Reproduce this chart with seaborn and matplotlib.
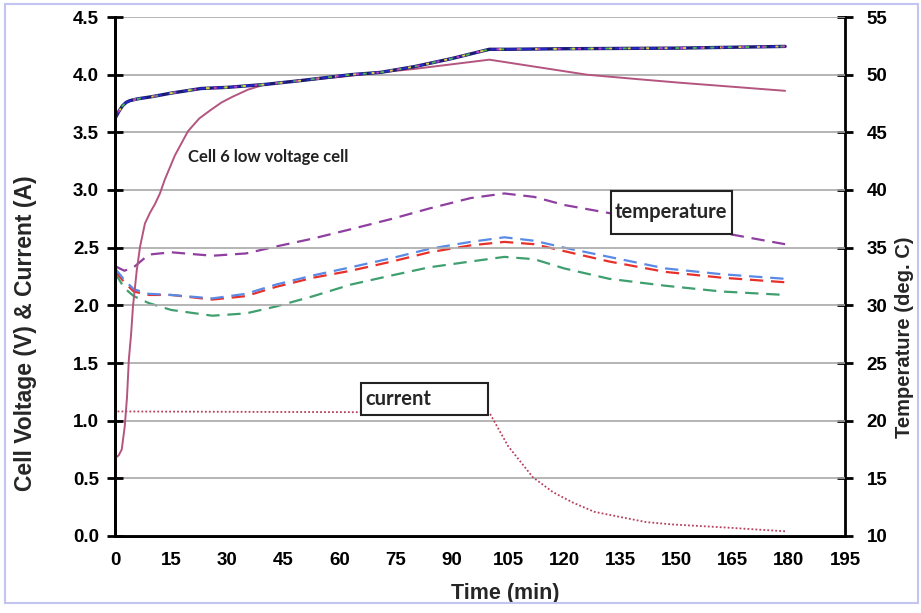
import matplotlib
matplotlib.use('Agg')
import matplotlib.pyplot as plt
from matplotlib.patches import Rectangle
import seaborn as sns

sns.set_style('white')
plt.rcParams['font.family'] = ['Liberation Sans', 'DejaVu Sans']

# normal cells (all on top of each other)
cell_t = [0, 1, 2, 3, 4, 6, 10, 15, 23, 30, 40, 50, 63, 71, 80, 90, 100, 105, 120, 150, 179]
cell_v = [3.62, 3.68, 3.73, 3.76, 3.775, 3.79, 3.81, 3.84, 3.88, 3.89, 3.915, 3.95, 4.0, 4.02,
          4.07, 4.14, 4.22, 4.22, 4.225, 4.23, 4.245]

# cell 6, low voltage
cell6_t = [0, 0.2, 1.0, 1.8, 2.6, 3.2, 3.7, 4.3, 4.8, 5.8, 6.7, 8.0, 9.3, 10.7, 12.0, 13.3,
           16, 19.5, 22.5, 25.4, 28.5, 31.5, 35.5, 39.5, 45, 50, 60, 71, 80, 90, 100, 112,
           126, 140, 151, 165, 179]
cell6_v = [0, 0.68, 0.70, 0.75, 0.95, 1.2, 1.53, 1.75, 1.99, 2.3, 2.51, 2.71, 2.8, 2.88, 2.97,
           3.09, 3.3, 3.51, 3.62, 3.69, 3.76, 3.81, 3.87, 3.91, 3.935, 3.95, 3.98, 4.02, 4.05,
           4.09, 4.13, 4.07, 4.0, 3.96, 3.93, 3.895, 3.86]

# temperatures (deg C)
temp_t = [0, 2.5, 5, 9, 15, 26, 35, 43, 53, 63, 74, 84, 95, 104, 112, 120, 132, 147, 162, 179]
temp_purple = [33.4, 33.0, 33.3, 34.4, 34.6, 34.3, 34.5, 35.1, 35.8, 36.6, 37.5, 38.4, 39.3,
               39.7, 39.4, 38.7, 38.0, 37.1, 36.3, 35.3]
temp_blue = [33.2, 32.2, 31.4, 31.0, 30.9, 30.6, 31.0, 31.8, 32.6, 33.3, 34.1, 34.9, 35.5,
             35.9, 35.6, 35.0, 34.2, 33.2, 32.7, 32.3]
temp_red = [33.0, 32.0, 31.2, 30.9, 30.9, 30.5, 30.8, 31.6, 32.4, 33.0, 33.8, 34.6, 35.2,
            35.5, 35.3, 34.7, 33.8, 32.9, 32.4, 32.0]
temp_green = [32.8, 31.5, 30.8, 30.2, 29.6, 29.1, 29.3, 29.9, 30.8, 31.8, 32.6, 33.3, 33.8,
              34.2, 34.0, 33.2, 32.3, 31.7, 31.2, 30.9]

# charge current (A)
cur_t = [0, 0, 100, 105, 111.6, 117, 122.3, 128, 135.7, 142, 149, 157, 165, 172, 179.5]
cur_a = [0, 1.08, 1.07, 0.78, 0.51, 0.38, 0.29, 0.21, 0.16, 0.12, 0.10, 0.085, 0.07, 0.055, 0.04]

fig = plt.figure(figsize=(9.21, 6.13), dpi=100)
ax = fig.add_axes([115/921, 77/613, 730/921, 519/613])
ax2 = ax.twinx()

# temperatures on right axis
for vals, col in [(temp_green, '#3f9f6f'), (temp_red, '#e8302a'), (temp_blue, '#5a8ae6'),
                  (temp_purple, '#8e3f9f')]:
    sns.lineplot(x=temp_t, y=vals, ax=ax2, color=col, lw=1.6, estimator=None, sort=False,
                 linestyle=(0, (6, 3.5)))

# voltages and current on left axis
sns.lineplot(x=cur_t, y=cur_a, ax=ax, color='#b8405f', lw=1.3, estimator=None, sort=False,
             linestyle=(0, (1, 1.2)))
sns.lineplot(x=cell6_t, y=cell6_v, ax=ax, color='#b4557f', lw=1.4, estimator=None, sort=False)
sns.lineplot(x=cell_t, y=cell_v, ax=ax, color='#1a1a70', lw=2.4, estimator=None, sort=False)
for col, dash in [('#2828c8', (0, (5, 3))), ('#50b050', (2, (2, 7))),
                  ('#e0d040', (5, (1.5, 8))), ('#c040c0', (7, (1.5, 9)))]:
    sns.lineplot(x=cell_t, y=cell_v, ax=ax, color=col, lw=1.4, estimator=None, sort=False,
                 linestyle=dash)

ax.set_xlim(0, 195)
ax.set_ylim(0, 4.5)
ax2.set_ylim(10, 55)
ax.set_xticks(range(0, 196, 15))
ax.set_yticks([i * 0.5 for i in range(10)])
ax.set_yticklabels([f'{i * 0.5:.1f}' for i in range(10)])
ax2.set_yticks(range(10, 56, 5))

ax.yaxis.grid(True, color='#a8a8a8', lw=1.2)
ax.xaxis.grid(False)
ax2.grid(False)
ax.set_zorder(ax2.get_zorder() + 1)
ax.patch.set_visible(False)

for a in (ax, ax2):
    for s in a.spines.values():
        s.set_color('black')
        s.set_linewidth(2)
    a.spines['top'].set_visible(False)
    a.tick_params(direction='inout', length=11, width=2, colors='black', labelsize=13.5, pad=6)
    for lbl in a.get_xticklabels() + a.get_yticklabels():
        lbl.set_fontweight('bold')
ax.spines['right'].set_visible(False)
ax2.tick_params(axis='y', pad=10)

ax.set_xlabel('Time (min)', fontsize=15.5, fontweight='bold')
ax.xaxis.set_label_coords(0.534, -0.09)
ax.set_ylabel('Cell Voltage (V) & Current (A)', fontsize=16.5, fontweight='bold')
ax.yaxis.set_label_coords(-0.107, 0.39)
ax2.set_ylabel('Temperature (deg. C)', fontsize=14.5, fontweight='bold')
ax2.yaxis.set_label_coords(1.068, 0.383)

ax.text(19.5, 3.29, 'Cell 6 low voltage cell', fontsize=12, fontweight='bold',
        family=['Lato', 'DejaVu Sans'], va='center', ha='left', color='#222222')

# boxed labels
for (x0, y0, w, h), txt in [((611, 191, 121, 43), 'temperature'), ((361, 383, 127, 32), 'current')]:
    fig.patches.append(Rectangle((x0 / 921, 1 - (y0 + h) / 613), w / 921, h / 613,
                                 transform=fig.transFigure, facecolor='white',
                                 edgecolor='#222222', lw=1.5, zorder=5))
    fig.text((x0 + 4) / 921, 1 - (y0 + h / 2) / 613, txt, fontsize=14.5, fontweight='bold',
             family=['Lato', 'DejaVu Sans'], va='center', ha='left', zorder=6)

fig.patches.append(Rectangle((5 / 921, 1 - 603 / 613), 913 / 921, 599 / 613,
                             transform=fig.transFigure, fill=False, edgecolor='#c4c4f2', lw=1.5))

fig.savefig('out.png', dpi=100)
